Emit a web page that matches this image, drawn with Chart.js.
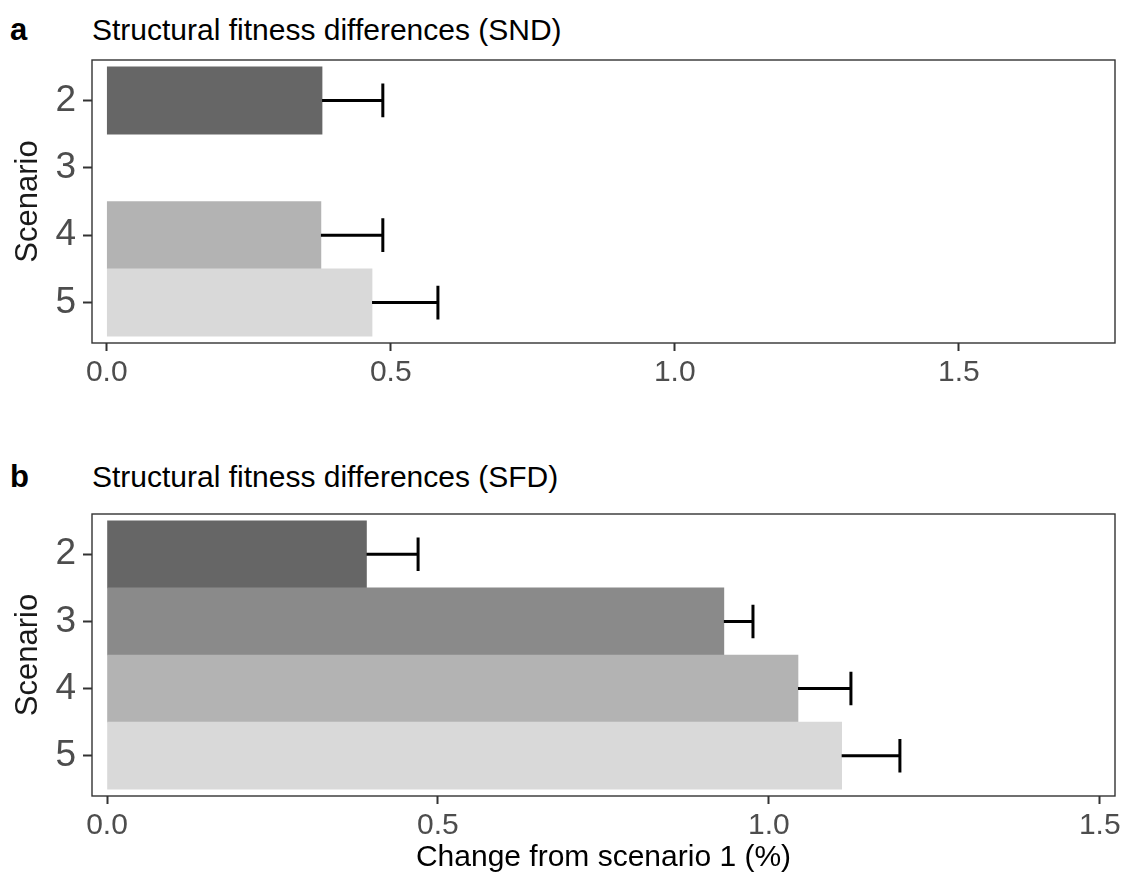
<!DOCTYPE html>
<html>
<head>
<meta charset="utf-8">
<script src="https://cdn.jsdelivr.net/npm/chart.js@4.4.0/dist/chart.umd.min.js"></script>
<style>
  body { margin: 0; background: #fff; width: 1130px; height: 881px; position: relative; overflow: hidden;
         font-family: "Liberation Sans", Arial, sans-serif; }
  .tag { position: absolute; font-weight: bold; font-size: 31px; line-height: 1; color: #000; }
  .ttl { position: absolute; font-size: 30px; line-height: 1; color: #000; }
  .box { position: absolute; left: 0; width: 1130px; }
</style>
</head>
<body>
<div class="tag" style="left:10px;top:14px">a</div>
<div class="ttl" style="left:92px;top:15px">Structural fitness differences (SND)</div>
<div class="box" style="top:50px;height:350px"><canvas id="chartSND"></canvas></div>

<div class="tag" style="left:10px;top:461px">b</div>
<div class="ttl" style="left:92px;top:462px">Structural fitness differences (SFD)</div>
<div class="box" style="top:500px;height:381px"><canvas id="chartSFD"></canvas></div>

<script>
const FONT = "'Liberation Sans', Arial, sans-serif";

const scenarios = [2, 3, 4, 5];
const barColors = ["#666666", "#8a8a8a", "#b3b3b3", "#d9d9d9"];
const xTicks = [0, 0.5, 1.0, 1.5];

// panel a (SND) - scenario 3 has no bar
const sndMean  = [0.379, null, 0.377, 0.467];
const sndUpper = [0.486, null, 0.486, 0.583];

// panel b (SFD)
const sfdMean  = [0.392, 0.932, 1.044, 1.110];
const sfdUpper = [0.470, 0.976, 1.124, 1.198];

// error bar: line from bar end to upper value + vertical cap
const errorBars = {
  id: "errorBars",
  afterDatasetsDraw(chart, args, opts) {
    const { ctx, scales: { x, y } } = chart;
    const cap = Math.abs(y.getPixelForValue(0.25) - y.getPixelForValue(0));
    ctx.save();
    ctx.strokeStyle = "#000";
    ctx.lineWidth = 3;
    opts.upper.forEach((u, i) => {
      if (u == null) return;
      const py = y.getPixelForValue(scenarios[i]);
      const x0 = x.getPixelForValue(opts.mean[i]);
      const x1 = x.getPixelForValue(u);
      ctx.beginPath();
      ctx.moveTo(x0, py); ctx.lineTo(x1, py);
      ctx.moveTo(x1, py - cap); ctx.lineTo(x1, py + cap);
      ctx.stroke();
    });
    ctx.restore();
  }
};

// ggplot-like panel frame
const panelBorder = {
  id: "panelBorder",
  afterDraw(chart) {
    const { ctx, chartArea: a } = chart;
    ctx.save();
    ctx.strokeStyle = "#333333";
    ctx.lineWidth = 1.4;
    ctx.strokeRect(a.left, a.top, a.right - a.left, a.bottom - a.top);
    ctx.restore();
  }
};

function noPad(s) {
  s.paddingTop = 0; s.paddingBottom = 0; s.paddingLeft = 0; s.paddingRight = 0;
}

function makeChart(id, mean, upper, xMin, xMax, padTop, axisH, xTitle) {
  const ctx = document.getElementById(id).getContext("2d");
  return new Chart(ctx, {
    type: "bar",
    data: {
      datasets: [{
        data: scenarios.map((s, i) => ({ x: mean[i], y: s })),
        backgroundColor: barColors,
        borderWidth: 0,
        barPercentage: 1,
        categoryPercentage: 1
      }]
    },
    options: {
      indexAxis: "y",
      responsive: true,
      maintainAspectRatio: false,
      animation: false,
      layout: { padding: { top: padTop, right: 15, left: 0, bottom: 0 } },
      plugins: {
        legend: { display: false },
        tooltip: { enabled: false },
        errorBars: { mean: mean, upper: upper }
      },
      scales: {
        x: {
          type: "linear",
          min: xMin,
          max: xMax,
          offset: false,
          afterBuildTicks: s => { s.ticks = xTicks.map(v => ({ value: v })); },
          afterFit: s => { s.height = axisH; noPad(s); },
          border: { display: false },
          grid: { drawOnChartArea: false, drawTicks: true, tickLength: 8, tickColor: "#333", tickWidth: 2 },
          ticks: { callback: v => v.toFixed(1), color: "#4d4d4d", font: { size: 30, family: FONT },
                   padding: 4, maxRotation: 0, autoSkip: false },
          title: { display: !!xTitle, text: xTitle || "", color: "#000", font: { size: 30, family: FONT },
                   padding: { top: 0, bottom: 5 } }
        },
        y: {
          type: "linear",
          reverse: true,
          min: 1.4,
          max: 5.6,
          offset: false,
          afterBuildTicks: s => { s.ticks = scenarios.map(v => ({ value: v })); },
          afterFit: s => { s.width = 92; noPad(s); },
          border: { display: false },
          grid: { offset: false, drawOnChartArea: false, drawTicks: true, tickLength: 9, tickColor: "#333", tickWidth: 2 },
          ticks: { color: "#4d4d4d", font: { size: 37, family: FONT }, padding: 7 },
          title: { display: true, text: "Scenario", color: "#1a1a1a", font: { size: 31, family: FONT },
                   padding: { top: 10, bottom: 0 } }
        }
      }
    },
    plugins: [errorBars, panelBorder]
  });
}

makeChart("chartSND", sndMean, sndUpper, -0.026, 1.775, 10, 57, null);
makeChart("chartSFD", sfdMean, sfdUpper, -0.0227, 1.523, 14, 85, "Change from scenario 1 (%)");
</script>
</body>
</html>
